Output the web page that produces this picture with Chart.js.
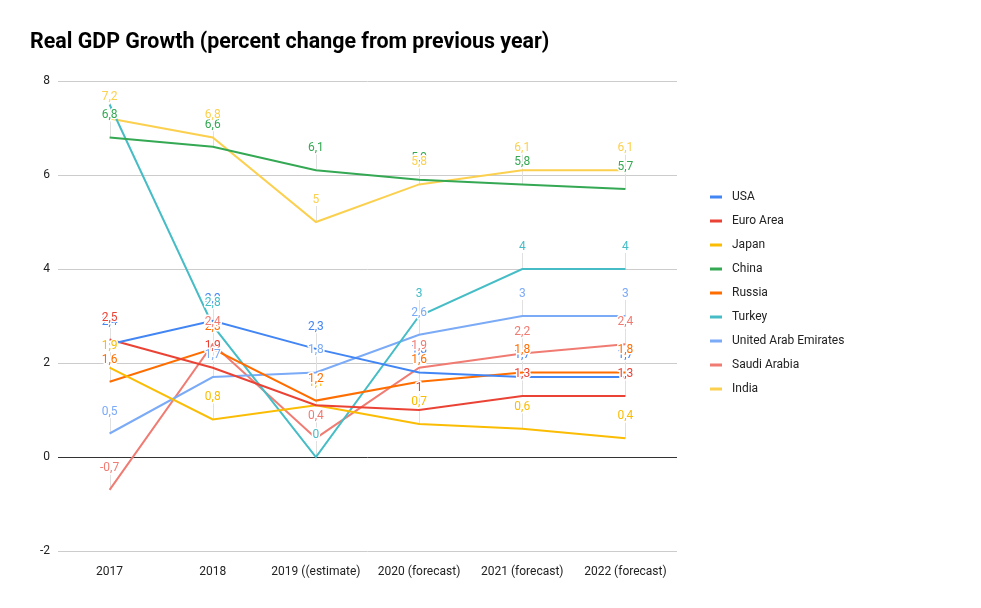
<!DOCTYPE html>
<html>
<head>
<meta charset="utf-8">
<script src="https://cdn.jsdelivr.net/npm/chart.js@4"></script>
<style>
  body { margin: 0; background: #fff; }
  #wrap { width: 981px; height: 608px; }
</style>
</head>
<body>
<div id="wrap"><canvas id="gdp-chart"></canvas></div>
<script>
var years = ["2017", "2018", "2019 ((estimate)", "2020 (forecast)", "2021 (forecast)", "2022 (forecast)"];
var yTicks = [-2, 0, 2, 4, 6, 8];

var usa = [2.4, 2.9, 2.3, 1.8, 1.7, 1.7];
var euroArea = [2.5, 1.9, 1.1, 1.0, 1.3, 1.3];
var japan = [1.9, 0.8, 1.1, 0.7, 0.6, 0.4];
var china = [6.8, 6.6, 6.1, 5.9, 5.8, 5.7];
var russia = [1.6, 2.3, 1.2, 1.6, 1.8, 1.8];
var turkey = [7.5, 2.8, 0, 3, 4, 4];
var uae = [0.5, 1.7, 1.8, 2.6, 3, 3];
var saudi = [-0.7, 2.4, 0.4, 1.9, 2.2, 2.4];
var india = [7.2, 6.8, 5, 5.8, 6.1, 6.1];

var seriesNames = ["USA", "Euro Area", "Japan", "China", "Russia", "Turkey", "United Arab Emirates", "Saudi Arabia", "India"];
var seriesData = [usa, euroArea, japan, china, russia, turkey, uae, saudi, india];
var seriesColors = ['#4285f4', '#ea4335', '#fbbc04', '#34a853', '#ff6d01', '#46bdc6', '#7baaf7', '#f07b72', '#fcd04f'];

var FONT = 'Roboto, "Liberation Sans", Arial, sans-serif';

function fmt(v) {
    return String(v).replace('.', ',');
}

// leader lines + value labels (labels running past the top of the plot are dropped)
var valueLabels = {
    id: 'valueLabels',
    beforeDatasetsDraw: function(chart) {
        var ctx = chart.ctx;
        ctx.save();
        ctx.strokeStyle = '#e0e0e0';
        ctx.lineWidth = 1;
        chart.data.datasets.forEach(function(ds, i) {
            chart.getDatasetMeta(i).data.forEach(function(pt) {
                if (pt.y - 28 < chart.chartArea.top) return;
                ctx.beginPath();
                ctx.moveTo(Math.round(pt.x) + 0.5, pt.y);
                ctx.lineTo(Math.round(pt.x) + 0.5, pt.y - 16);
                ctx.stroke();
            });
        });
        ctx.restore();
    },
    afterDatasetsDraw: function(chart) {
        var ctx = chart.ctx;
        ctx.save();
        ctx.font = '12px ' + FONT;
        ctx.textAlign = 'center';
        ctx.textBaseline = 'middle';
        ctx.lineJoin = 'round';
        chart.data.datasets.forEach(function(ds, i) {
            chart.getDatasetMeta(i).data.forEach(function(pt, j) {
                if (pt.y - 28 < chart.chartArea.top) return;
                var txt = fmt(ds.data[j]);
                ctx.strokeStyle = '#fff';
                ctx.lineWidth = 3;
                ctx.strokeText(txt, pt.x, pt.y - 22);
                ctx.fillStyle = ds.borderColor;
                ctx.fillText(txt, pt.x, pt.y - 22);
            });
        });
        ctx.restore();
    }
};

// title and legend on the right
var decor = {
    id: 'decor',
    afterDraw: function(chart) {
        var ctx = chart.ctx;
        ctx.save();
        ctx.fillStyle = '#000';
        ctx.font = 'bold 21.4px ' + FONT;
        ctx.textBaseline = 'middle';
        ctx.fillText('Real GDP Growth (percent change from previous year)', 30, 43);

        ctx.font = '12px ' + FONT;
        chart.data.datasets.forEach(function(ds, i) {
            var y = 197 + i * 24;
            ctx.fillStyle = ds.borderColor;
            ctx.fillRect(710, y - 1.5, 12, 3);
            ctx.fillStyle = '#222';
            ctx.fillText(ds.label, 732, y);
        });
        ctx.restore();
    }
};

var ctx1 = document.getElementById('gdp-chart').getContext('2d');
var gdpChart = new Chart(ctx1, {
    type: 'line',
    data: {
        labels: years,
        datasets: seriesNames.map(function(name, i) {
            return {
                label: name,
                data: seriesData[i],
                borderColor: seriesColors[i],
                backgroundColor: seriesColors[i],
                borderWidth: 2,
                pointRadius: 0,
                tension: 0
            };
        })
    },
    options: {
        responsive: true,
        maintainAspectRatio: false,
        animation: false,
        layout: {
            padding: { top: 81, right: 304, left: 0, bottom: 0 }
        },
        scales: {
            x: {
                offset: true,
                grid: { display: false, drawTicks: false },
                border: { display: false },
                ticks: {
                    color: '#222',
                    font: { family: FONT, size: 12 },
                    padding: 14,
                    maxRotation: 0,
                    autoSkip: false
                },
                afterFit: function(s) { s.height = 57; }
            },
            y: {
                min: -2,
                max: 8,
                afterBuildTicks: function(s) {
                    s.ticks = yTicks.map(function(v) { return { value: v }; });
                },
                grid: {
                    drawTicks: false,
                    color: function(c) { return c.tick && c.tick.value === 0 ? '#333' : '#ccc'; }
                },
                border: { display: false },
                ticks: {
                    color: '#222',
                    font: { family: FONT, size: 12 },
                    padding: 8
                },
                afterFit: function(s) { s.width = 58; }
            }
        },
        plugins: {
            legend: { display: false },
            title: { display: false },
            tooltip: { enabled: false }
        }
    },
    plugins: [valueLabels, decor]
});
</script>
</body>
</html>
